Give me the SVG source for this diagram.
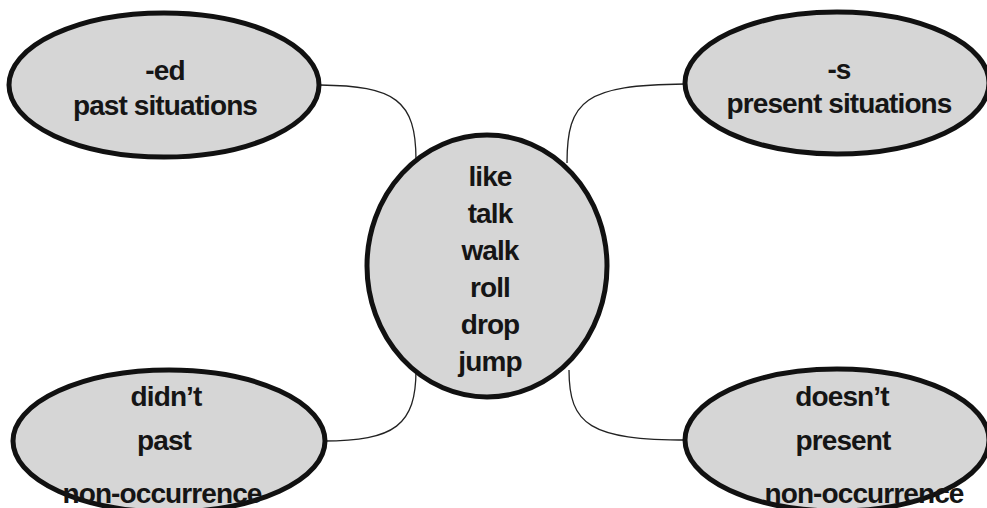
<svg xmlns="http://www.w3.org/2000/svg" width="987" height="508" viewBox="0 0 987 508">
<defs>
<style>
.node{fill:#d6d6d6;stroke:#111;stroke-width:5}
.lbl{font-family:"Liberation Sans",Arial,sans-serif;font-weight:bold;font-size:28px;fill:#151515;text-anchor:middle;letter-spacing:-0.9px}
.conn{fill:none;stroke:#222;stroke-width:1.3}
</style>
</defs>
<rect width="987" height="508" fill="#fff"/>
<g id="connectors">
<path class="conn" d="M320,85 C395,86 416,100 416,160"/>
<path class="conn" d="M567,163 C567,100 585,85 685,84"/>
<path class="conn" d="M323,441 C395,441 416,425 416,370"/>
<path class="conn" d="M569,370 C569,425 590,440 688,440"/>
</g>
<g id="node-ed">
<ellipse class="node" cx="164" cy="85" rx="155" ry="72"/>
<text class="lbl" x="165" y="80">-ed</text>
<text class="lbl" x="165" y="115">past situations</text>
</g>
<g id="node-s">
<ellipse class="node" cx="837" cy="83" rx="152" ry="71"/>
<text class="lbl" x="839" y="79">-s</text>
<text class="lbl" x="839" y="113">present situations</text>
</g>
<g id="node-didnt">
<ellipse class="node" cx="169" cy="441" rx="156" ry="71"/>
<text class="lbl" x="166" y="406">didn’t</text>
<text class="lbl" x="164" y="450">past</text>
<text class="lbl" x="162" y="503">non-occurrence</text>
</g>
<g id="node-doesnt">
<ellipse class="node" cx="837" cy="440" rx="152" ry="71"/>
<text class="lbl" x="842" y="406">doesn’t</text>
<text class="lbl" x="843" y="450">present</text>
<text class="lbl" x="864" y="503">non-occurrence</text>
</g>
<g id="node-verbs">
<ellipse class="node" cx="487" cy="266" rx="120" ry="131"/>
<text class="lbl" x="490" y="186">like</text>
<text class="lbl" x="490" y="223">talk</text>
<text class="lbl" x="490" y="260">walk</text>
<text class="lbl" x="490" y="297">roll</text>
<text class="lbl" x="490" y="334">drop</text>
<text class="lbl" x="490" y="371">jump</text>
</g>
</svg>
